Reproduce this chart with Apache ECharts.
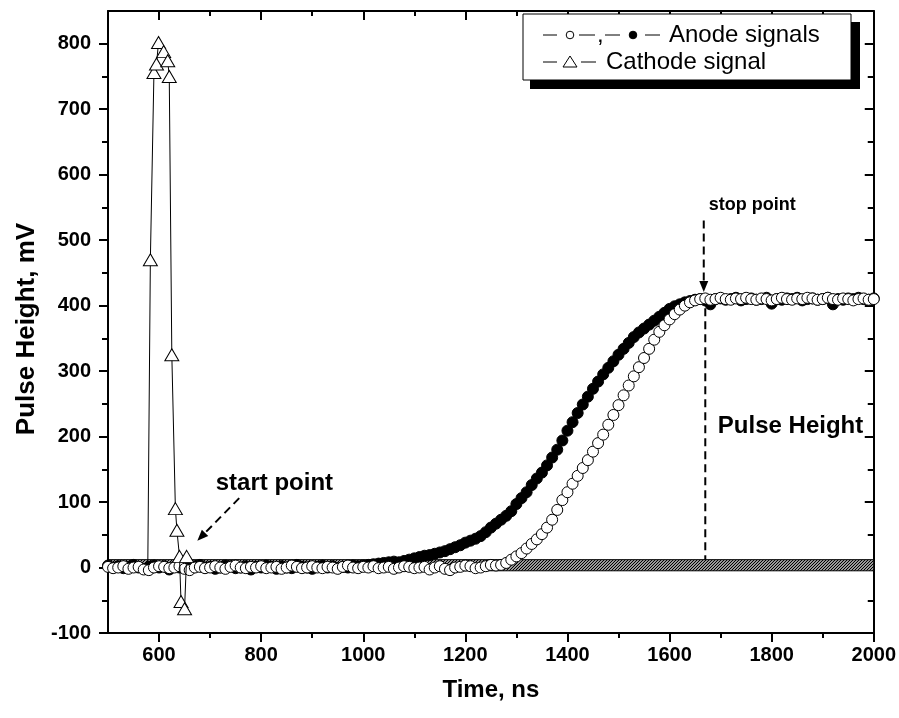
<!DOCTYPE html>
<html><head><meta charset="utf-8">
<script src="https://cdn.jsdelivr.net/npm/echarts@6/dist/echarts.min.js"></script>
<style>html,body{margin:0;padding:0;background:#fff}#c{width:899px;height:718px}</style>
</head><body><div id="c"></div>
<script>
// ---- data ----
const anodeTime = [
 500,510,520,530,540,550,560,570,580,590,
 600,610,620,630,640,650,660,670,680,690,
 700,710,720,730,740,750,760,770,780,790,
 800,810,820,830,840,850,860,870,880,890,
 900,910,920,930,940,950,960,970,980,990,
 1000,1010,1020,1030,1040,1050,1060,1070,1080,1090,
 1100,1110,1120,1130,1140,1150,1160,1170,1180,1190,
 1200,1210,1220,1230,1240,1250,1260,1270,1280,1290,
 1300,1310,1320,1330,1340,1350,1360,1370,1380,1390,
 1400,1410,1420,1430,1440,1450,1460,1470,1480,1490,
 1500,1510,1520,1530,1540,1550,1560,1570,1580,1590,
 1600,1610,1620,1630,1640,1650,1660,1670,1680,1690,
 1700,1710,1720,1730,1740,1750,1760,1770,1780,1790,
 1800,1810,1820,1830,1840,1850,1860,1870,1880,1890,
 1900,1910,1920,1930,1940,1950,1960,1970,1980,1990,
 2000];
const anodeOpen = [
 1,-1,0,2,-2,0,1,-3,-4,0,
 2,1,-1,0,2,-2,-4,0,1,-1,
 0,2,0,-2,1,3,0,-1,1,0,
 2,-1,0,1,-2,0,3,1,-1,0,
 2,0,-1,1,0,-2,1,3,0,-1,
 1,0,2,-1,0,1,-2,0,2,1,
 -1,0,1,-3,0,2,-2,-4,0,1,
 3,2,-1,0,2,4,3,4,7,12,
 17,22,29,36,43,51,61,73,88,103,
 115,128,140,152,164,177,190,203,218,233,
 248,263,278,292,306,320,334,348,360,370,
 379,387,394,400,405,408,410,411,409,410,
 412,410,409,411,410,412,410,409,411,410,
 408,410,412,410,409,411,410,412,411,409,
 410,412,410,409,411,410,408,410,411,409,
 410];
const anodeFilled = [
 3,0,2,-1,1,4,0,-2,1,3,
 0,2,-3,1,0,3,-1,2,4,0,
 1,-2,0,3,2,-1,0,2,-3,1,
 0,3,1,-2,2,0,-1,4,1,0,
 -2,1,3,0,2,-1,1,0,3,2,
 3,4,5,6,7,8,9,8,10,12,
 14,16,18,19,21,23,25,28,31,34,
 38,41,44,48,54,61,67,73,79,86,
 97,106,115,126,136,145,156,168,180,194,
 209,222,236,249,261,273,284,295,305,315,
 325,334,343,352,359,365,371,377,383,389,
 395,399,402,405,407,409,410,408,402,410,
 411,409,410,412,408,410,411,409,410,412,
 403,410,409,411,410,412,408,410,411,409,
 410,412,402,410,409,411,410,412,410,409,
 411];
const cathodeTime  = [578, 583, 590, 595, 599, 609, 617, 620, 625, 632, 635, 640, 643, 650, 654, 660];
const cathodeValue = [8,   470, 756, 769, 802, 788, 774, 750, 325, 90,  57,  17,  -52, -63, 17,  8];
const baselineBand = [-5, 12];          // dense cathode-signal noise band (mV)
const xMajorTicks = [600, 800, 1000, 1200, 1400, 1600, 1800, 2000];
const xMinorTicks = [700, 900, 1100, 1300, 1500, 1700, 1900];
const yMajorTicks = [-100, 0, 100, 200, 300, 400, 500, 600, 700, 800];
const yMinorTicks = [-50, 50, 150, 250, 350, 450, 550, 650, 750];
const startArrow = [[757, 106], [675, 41]];
const stopArrow  = [[1667, 530], [1667, 421]];
const heightLine = [[1670, 396], [1670, 12]];

// ---- chart ----
const FONT = '"Liberation Sans", Arial, Helvetica, sans-serif';
const chart = echarts.init(document.getElementById('c'), null, {renderer: 'canvas'});

const hatch = document.createElement('canvas');
hatch.width = 3; hatch.height = 3;
(function () {
  const c = hatch.getContext('2d');
  c.fillStyle = '#999'; c.fillRect(0, 0, 3, 3);
  c.strokeStyle = '#000'; c.lineWidth = 1;
  c.beginPath();
  c.moveTo(-1, 4); c.lineTo(4, -1);
  c.moveTo(-1, 1); c.lineTo(1, -1);
  c.moveTo(2, 4); c.lineTo(4, 2);
  c.stroke();
})();

const black = '#000';
function xAxisDef(pos, ticks, len, inside, extra) {
  return Object.assign({
    type: 'value', position: pos, min: 500, max: 2000, interval: 100,
    axisLine: {show: false, onZero: false, lineStyle: {color: black, width: 2}},
    axisTick: {show: true, customValues: ticks, length: len, inside: inside, lineStyle: {color: black, width: 2}},
    axisLabel: {show: false},
    splitLine: {show: false}
  }, extra || {});
}
function yAxisDef(pos, ticks, len, inside, extra) {
  return Object.assign({
    type: 'value', position: pos, min: -100, max: 850, interval: 50,
    axisLine: {show: false, onZero: false, lineStyle: {color: black, width: 2}},
    axisTick: {show: true, customValues: ticks, length: len, inside: inside, lineStyle: {color: black, width: 2}},
    axisLabel: {show: false},
    splitLine: {show: false}
  }, extra || {});
}
const labelStyle = {show: true, color: black, fontFamily: FONT, fontWeight: 'bold', fontSize: 20,
  formatter: (v) => String(v)};
const nameStyle = {color: black, fontFamily: FONT, fontWeight: 'bold', fontSize: 24};

const option = {
  animation: false,
  backgroundColor: '#fff',
  grid: {left: 108, right: 24, top: 11, bottom: 85},
  xAxis: [
    xAxisDef('bottom', xMajorTicks, 9, false, {
      axisLine: {show: true, onZero: false, lineStyle: {color: black, width: 2}},
      axisLabel: Object.assign({customValues: xMajorTicks, margin: 12}, labelStyle),
      name: 'Time, ns', nameLocation: 'middle', nameGap: 45, nameTextStyle: nameStyle
    }),
    xAxisDef('bottom', xMinorTicks, 5, false),
    xAxisDef('top', xMajorTicks, 9, true, {axisLine: {show: true, onZero: false, lineStyle: {color: black, width: 2}}}),
    xAxisDef('top', xMinorTicks, 5, true)
  ],
  yAxis: [
    yAxisDef('left', yMajorTicks, 9, false, {
      axisLine: {show: true, onZero: false, lineStyle: {color: black, width: 2}},
      axisLabel: Object.assign({customValues: yMajorTicks, margin: 17}, labelStyle),
      name: 'Pulse Height, mV', nameLocation: 'middle', nameGap: 66,
      nameTextStyle: Object.assign({}, nameStyle, {fontSize: 26, padding: [0, 14, 0, 0]})
    }),
    yAxisDef('left', yMinorTicks, 6, false),
    yAxisDef('right', yMajorTicks, 9, true, {axisLine: {show: true, onZero: false, lineStyle: {color: black, width: 2}}}),
    yAxisDef('right', yMinorTicks, 6, true)
  ],
  series: [
    {
      name: 'band', type: 'line', data: [], z: 1, silent: true,
      markArea: {
        silent: true,
        itemStyle: {color: {image: hatch, repeat: 'repeat'}, borderColor: black, borderWidth: 1},
        data: [[{xAxis: 500, yAxis: baselineBand[0]}, {xAxis: 2000, yAxis: baselineBand[1]}]]
      }
    },
    {
      name: 'Anode (filled)', type: 'line', z: 2,
      data: anodeTime.map((t, i) => [t, anodeFilled[i]]),
      symbol: 'circle', symbolSize: 11, showSymbol: true,
      itemStyle: {color: black, borderColor: black, borderWidth: 1},
      lineStyle: {color: black, width: 1}
    },
    {
      name: 'Anode (open)', type: 'line', z: 3,
      data: anodeTime.map((t, i) => [t, anodeOpen[i]]),
      symbol: 'circle', symbolSize: 11, showSymbol: true,
      itemStyle: {color: '#fff', borderColor: black, borderWidth: 1},
      lineStyle: {color: black, width: 1}
    },
    {
      name: 'Cathode signal', type: 'line', z: 4,
      data: cathodeTime.map((t, i) => {
        const item = {value: [t, cathodeValue[i]]};
        if (i === 0 || i === cathodeTime.length - 1) item.symbol = 'none';
        return item;
      }),
      symbol: 'triangle', symbolSize: [14, 12], showSymbol: true,
      itemStyle: {color: '#fff', borderColor: black, borderWidth: 1},
      lineStyle: {color: black, width: 1}
    }
  ]
};
chart.setOption(option);

// ---- annotations & legend ----
const P = (pt) => chart.convertToPixel({xAxisIndex: 0, yAxisIndex: 0}, pt);
function dashedArrow(a, b, head) {
  const p1 = P(a), p2 = P(b);
  const dx = p2[0] - p1[0], dy = p2[1] - p1[1];
  const L = Math.hypot(dx, dy), ux = dx / L, uy = dy / L;
  const hl = 11, hw = 4.5;
  const bx = p2[0] - ux * hl, by = p2[1] - uy * hl;
  const els = [{
    type: 'line', z: 100,
    shape: {x1: p1[0], y1: p1[1], x2: head ? bx : p2[0], y2: head ? by : p2[1]},
    style: {stroke: black, lineWidth: 2, lineDash: [8, 5]}
  }];
  if (head) els.push({
    type: 'polygon', z: 100,
    shape: {points: [[p2[0], p2[1]], [bx - uy * hw, by + ux * hw], [bx + uy * hw, by - ux * hw]]},
    style: {fill: black}
  });
  return els;
}
function txt(str, pt, size, bold, align) {
  return {type: 'text', z: 100, x: pt[0], y: pt[1],
    style: {text: str, fill: black, font: (bold ? 'bold ' : '') + size + 'px ' + FONT,
      textAlign: align || 'center', textVerticalAlign: 'middle'}};
}
const g = [];
g.push(txt('start point', P([826, 128]), 24, true));
g.push(...dashedArrow(startArrow[0], startArrow[1], true));
g.push(txt('stop point', P([1762, 554]), 18, true));
g.push(...dashedArrow(stopArrow[0], stopArrow[1], true));
g.push(...dashedArrow(heightLine[0], heightLine[1], false));
g.push(txt('Pulse Height', P([1837, 215]), 24, true));

// legend box (drawn manually to reproduce combined entry)
g.push({type: 'rect', z: 110, shape: {x: 530, y: 22, width: 330, height: 67}, style: {fill: black}});
g.push({type: 'rect', z: 111, shape: {x: 523, y: 14, width: 328, height: 66}, style: {fill: '#fff', stroke: black, lineWidth: 1}});
function seg(x1, x2, y) {
  return {type: 'line', z: 112, shape: {x1: x1, y1: y, x2: x2, y2: y}, style: {stroke: black, lineWidth: 1}};
}
const r1 = 35, r2 = 62;
g.push(seg(543, 557, r1), seg(579, 595, r1), seg(605, 620, r1), seg(645, 660, r1));
g.push({type: 'circle', z: 113, shape: {cx: 570, cy: r1, r: 3.8}, style: {fill: '#fff', stroke: black, lineWidth: 1}});
g.push({type: 'circle', z: 113, shape: {cx: 633, cy: r1, r: 3.8}, style: {fill: black, stroke: black, lineWidth: 1}});
g.push(Object.assign(txt(',', [597, r1], 24, false, 'left'), {z: 113}));
g.push(Object.assign(txt('Anode signals', [669, r1], 24, false, 'left'), {z: 113}));
g.push(seg(543, 557, r2), seg(581, 596, r2));
g.push({type: 'polygon', z: 113, shape: {points: [[570, r2 - 6], [563, r2 + 5], [577, r2 + 5]]}, style: {fill: '#fff', stroke: black, lineWidth: 1}});
g.push(Object.assign(txt('Cathode signal', [606, r2], 24, false, 'left'), {z: 113}));

chart.setOption({graphic: g});
</script>
</body></html>
